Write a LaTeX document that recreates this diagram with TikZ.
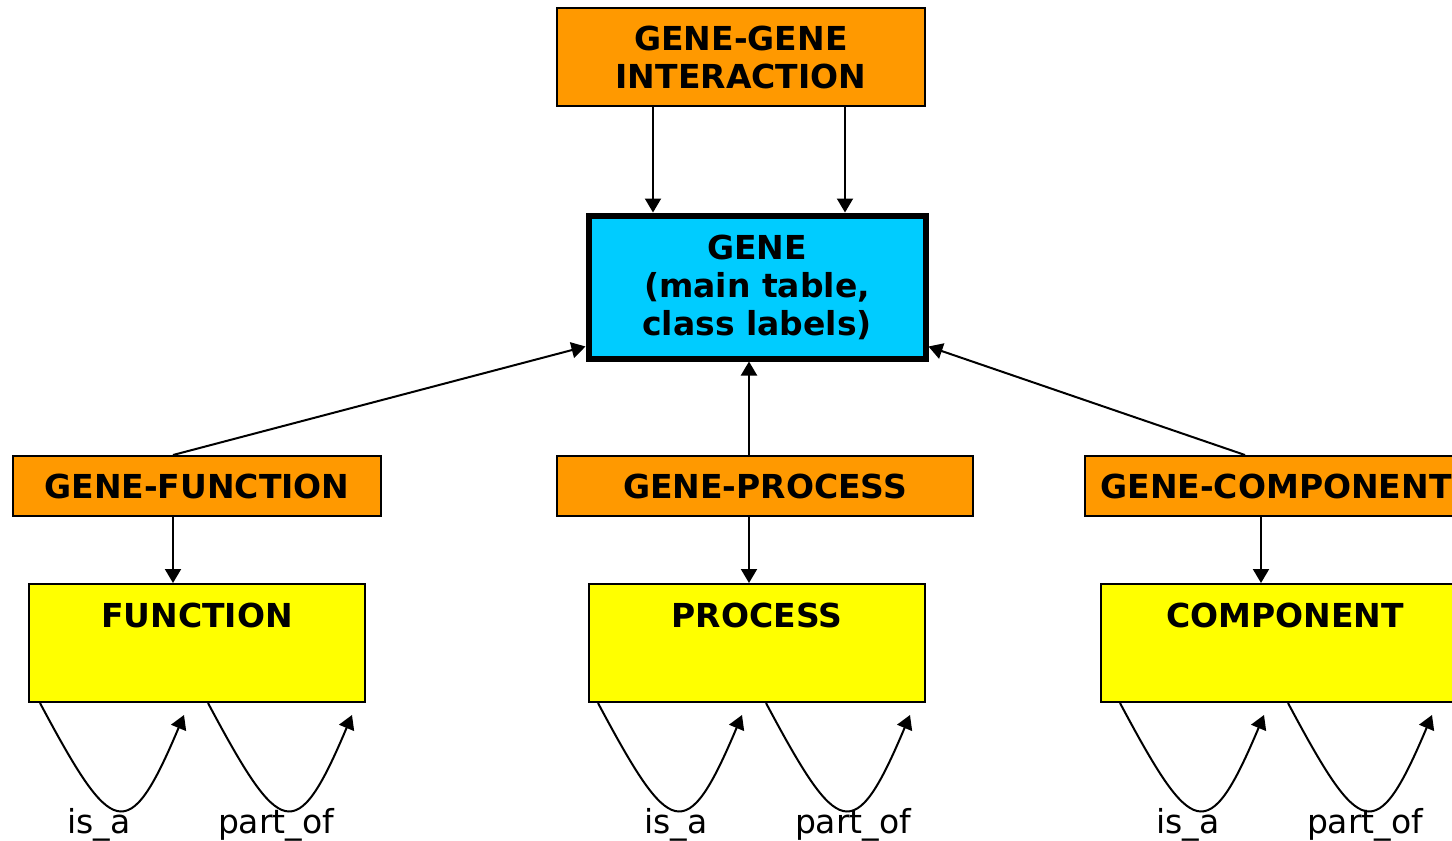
\documentclass[tikz,border=0pt]{standalone}
\usepackage{fontspec}
\setmainfont{DejaVu Sans}
\usetikzlibrary{arrows.meta,positioning,calc}
\definecolor{linkorange}{HTML}{FF9900}
\definecolor{genecyan}{HTML}{00CCFF}
\definecolor{termyellow}{HTML}{FFFF00}

\begin{document}
\begin{tikzpicture}[x=0.5pt,y=-0.5pt,>={Triangle[length=7pt,width=8pt]},line width=1pt,
 every node/.style={font=\fontsize{16.5}{19}\selectfont\bfseries,align=center},
 linkbox/.style={draw,fill=linkorange,minimum width=184pt,minimum height=30pt,inner sep=0pt},
 termbox/.style={draw,fill=termyellow,minimum width=168pt,inner xsep=0pt,inner ysep=9.5pt,
   text height=12pt,text depth=28pt},
 rel/.style={font=\fontsize{16.5}{19}\selectfont,anchor=base}]
\useasboundingbox (0,0) rectangle (1452,841);
\node[linkbox,minimum height=49pt] (ggi) at (741,57) {GENE-GENE\\INTERACTION};
\node[draw,line width=3pt,fill=genecyan,minimum width=168.5pt,minimum height=71.5pt]
  (gene) at (757,287) {GENE\\(main table,\\class labels)};
\node[linkbox] (gf) at (197,486) {GENE-FUNCTION};
\node[linkbox,minimum width=208pt] (gp) at (765,486) {GENE-PROCESS};
\node[linkbox,minimum width=191pt] (gc) at (1276,486) {GENE-COMPONENT};
\node[termbox] (func) at (197,643) {FUNCTION};
\node[termbox] (proc) at (757,643) {PROCESS};
\node[termbox,minimum width=184pt] (comp) at (1285,643) {COMPONENT};
\draw[->] ([xshift=-52pt]gene.north |- ggi.south) -- ([xshift=-52pt]gene.north);
\draw[->] ([xshift=44pt]gene.north |- ggi.south) -- ([xshift=44pt]gene.north);
\draw[->] ([xshift=-12pt]gf.north) -- ([yshift=7.5pt]gene.south west);
\draw[->] ([xshift=-8pt]gp.north) -- ([xshift=-8pt]gp.north |- gene.south);
\draw[->] ([xshift=-15.5pt]gc.north) -- ([yshift=7.5pt]gene.south east);
\draw[->] ([xshift=-12pt]gf.south) -- ([xshift=-12pt]func.north);
\draw[->] ([xshift=-8pt]gp.south) -- ([xshift=-8pt]gp.south |- proc.north);
\draw[->] ([xshift=-7.5pt]gc.south) -- ([xshift=-7.5pt]gc.south |- comp.north);
\foreach \b/\d/\l in {func/12/71,proc/10/88,comp/20/88}{
  \coordinate (\b-isa) at ($(\b.south west)+(\d,0)$);
  \coordinate (\b-isatip) at ($(\b-isa)+(144,12)$);
  \coordinate (\b-part) at ($(\b-isa)+(168,0)$);
  \coordinate (\b-parttip) at ($(\b-part)+(144,12)$);
  \draw[->] (\b-isa) .. controls +(72,135) and +(-56,133) .. (\b-isatip);
  \draw[->] (\b-part) .. controls +(72,135) and +(-56,133) .. (\b-parttip);
  \node[rel] (\b-isal) at ($(\b.south west)+(\l,130)$) {is\_a};
  \node[rel] (\b-partl) at ($(\b.south west)+(\l+177,130)$) {part\_of};
}
\end{tikzpicture}
\end{document}
